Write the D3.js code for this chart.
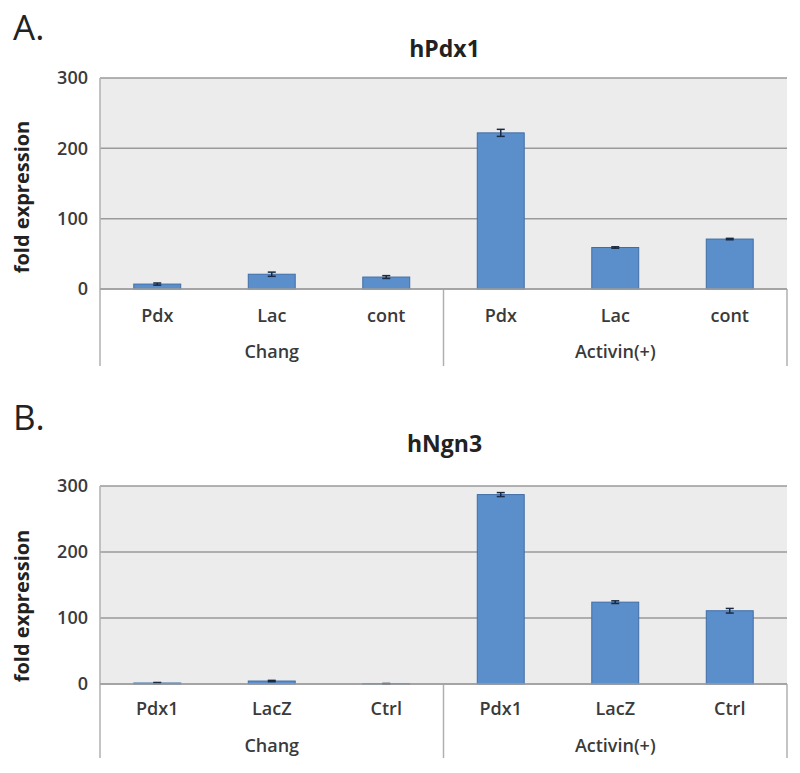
<!DOCTYPE html>
<html>
<head>
<meta charset="utf-8">
<script src="https://cdn.jsdelivr.net/npm/d3@7"></script>
<style>
  html, body { margin: 0; padding: 0; background: #fff; }
  svg { display: block; }
  text { font-family: "Open Sans", Lato, sans-serif; }
</style>
</head>
<body>
<svg id="chart" width="800" height="773"></svg>
<script>
// ---- Data ----
const groups = ["Chang", "Activin(+)"];
const categoriesA = ["Pdx", "Lac", "cont", "Pdx", "Lac", "cont"];
const valuesA = [7, 21, 17, 222, 59, 71];
const errorsA = [1.5, 3, 2, 5, 1, 1];
const categoriesB = ["Pdx1", "LacZ", "Ctrl", "Pdx1", "LacZ", "Ctrl"];
const valuesB = [1.5, 4.5, 0.5, 287, 124, 111];
const errorsB = [0.8, 1, 0.3, 3, 2, 3.5];
const yTicks = [0, 100, 200, 300];
const titles = ["hPdx1", "hNgn3"];
const panelLabels = ["A.", "B."];
const yLabel = "fold expression";

const svg = d3.select("#chart");

const panels = [
  { cats: categoriesA, vals: valuesA, errs: errorsA, title: titles[0], label: panelLabels[0],
    top: 78, zero: 289, axisBottom: 366, titleY: 57, labelY: 40, yLabelC: 197, catY: 322, grpY: 358 },
  { cats: categoriesB, vals: valuesB, errs: errorsB, title: titles[1], label: panelLabels[1],
    top: 486, zero: 684, axisBottom: 758, titleY: 452, labelY: 430, yLabelC: 606, catY: 715, grpY: 752 }
];

const left = 100, right = 787;
const textCol = "#3a3a3a";

panels.forEach(p => {
  const g = svg.append("g");
  const x = d3.scaleBand().domain(d3.range(p.cats.length)).range([left, right]).paddingInner(0.59).paddingOuter(0.295);
  const xg = d3.scaleBand().domain(groups).range([left, right]);
  const y = d3.scaleLinear().domain([0, 300]).range([p.zero, p.top]);

  // panel label
  g.append("text").attr("x", 13).attr("y", p.labelY).attr("font-size", 35)
    .attr("fill", "#222").text(p.label);
  // title
  g.append("text").attr("x", (left + right) / 2 + 1).attr("y", p.titleY)
    .attr("text-anchor", "middle").attr("font-size", 23).attr("font-weight", "bold")
    .attr("fill", "#222").text(p.title);

  // plot background
  g.append("rect").attr("x", left).attr("y", y(300)).attr("width", right - left)
    .attr("height", y(0) - y(300)).attr("fill", "#ececec");

  // gridlines
  g.selectAll(".grid").data(yTicks).join("line")
    .attr("x1", left).attr("x2", right)
    .attr("y1", d => y(d)).attr("y2", d => y(d))
    .attr("stroke", "#9a9a9a").attr("stroke-width", 1.5);

  // y axis tick labels
  const yAxis = d3.axisLeft(y).tickValues(yTicks).tickSize(0).tickPadding(12);
  const ya = g.append("g").attr("transform", `translate(${left},0)`).call(yAxis);
  ya.select(".domain").remove();
  ya.selectAll("text").attr("font-size", 18).attr("font-weight", 600).attr("fill", textCol)
    .attr("font-family", "'Open Sans', sans-serif");

  // y label
  g.append("text").attr("transform", `translate(29,${p.yLabelC}) rotate(-90)`)
    .attr("text-anchor", "middle").attr("font-size", 20).attr("font-weight", "bold")
    .attr("fill", "#222").text(yLabel);

  // category axis frame
  g.append("line").attr("x1", left).attr("x2", left).attr("y1", y(300)).attr("y2", p.axisBottom)
    .attr("stroke", "#b0b0b0").attr("stroke-width", 1.5);
  [xg.range()[0] + xg.bandwidth(), right].forEach(xx => {
    g.append("line").attr("x1", xx).attr("x2", xx).attr("y1", y(0)).attr("y2", p.axisBottom)
      .attr("stroke", "#b0b0b0").attr("stroke-width", 1.5);
  });

  // bars
  g.selectAll(".bar").data(p.vals).join("rect")
    .attr("x", (d, i) => x(i)).attr("width", x.bandwidth())
    .attr("y", d => y(d)).attr("height", d => y(0) - y(d))
    .attr("fill", "#5b8fcc").attr("stroke", "#3f6ea6").attr("stroke-width", 1);

  // error bars
  const eg = g.selectAll(".err").data(p.vals).join("g");
  eg.append("line")
    .attr("x1", (d, i) => x(i) + x.bandwidth() / 2).attr("x2", (d, i) => x(i) + x.bandwidth() / 2)
    .attr("y1", (d, i) => y(d + p.errs[i])).attr("y2", (d, i) => y(Math.max(0, d - p.errs[i])))
    .attr("stroke", "#1a2a40").attr("stroke-width", 1.5);
  [1, -1].forEach(s => {
    eg.append("line")
      .attr("x1", (d, i) => x(i) + x.bandwidth() / 2 - 4).attr("x2", (d, i) => x(i) + x.bandwidth() / 2 + 4)
      .attr("y1", (d, i) => y(Math.max(0, d + s * p.errs[i]))).attr("y2", (d, i) => y(Math.max(0, d + s * p.errs[i])))
      .attr("stroke", "#1a2a40").attr("stroke-width", 1.5);
  });

  // zero axis line
  g.append("line").attr("x1", left).attr("x2", right).attr("y1", y(0)).attr("y2", y(0))
    .attr("stroke", "#a0a0a0").attr("stroke-width", 1.5);

  // category labels
  g.selectAll(".cat").data(p.cats).join("text")
    .attr("x", (d, i) => x(i) + x.bandwidth() / 2).attr("y", p.catY)
    .attr("text-anchor", "middle").attr("font-size", 18).attr("font-weight", 600)
    .attr("fill", textCol).text(d => d);

  // group labels
  g.selectAll(".grp").data(groups).join("text")
    .attr("x", d => xg(d) + xg.bandwidth() / 2).attr("y", p.grpY)
    .attr("text-anchor", "middle").attr("font-size", 18).attr("font-weight", 600)
    .attr("fill", textCol).text(d => d);
});
</script>
</body>
</html>
